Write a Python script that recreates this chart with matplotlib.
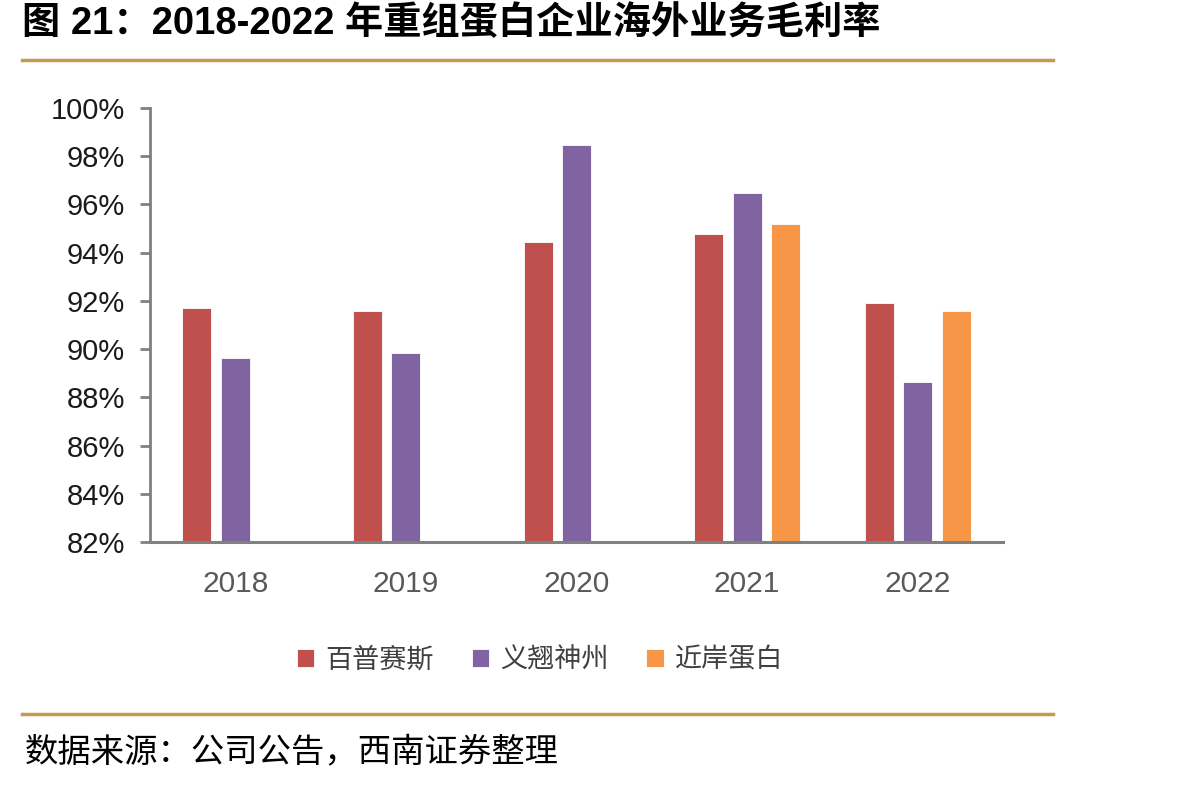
import numpy as np
import matplotlib.pyplot as plt
from matplotlib.lines import Line2D
from matplotlib.ticker import FuncFormatter

plt.rcParams['font.family'] = ['Liberation Sans', 'Noto Sans CJK SC', 'DejaVu Sans']

# 数据
years = ["2018", "2019", "2020", "2021", "2022"]
companies = ["百普赛斯", "义翘神州", "近岸蛋白"]
baipu = [91.72, 91.56, 94.46, 94.79, 91.90]
yiqiao = [89.65, 89.82, 98.46, 96.46, 88.63]
jinan = [np.nan, np.nan, np.nan, 95.18, 91.58]
colors = ["#C0504D", "#8064A2", "#F79646"]

fig = plt.figure(figsize=(12.04, 7.87), dpi=100)
ax = fig.add_axes([150 / 1204, 1 - 542 / 787, 853 / 1204, 434 / 787])

x = np.arange(len(years))
offsets = [-0.225, 0.0, 0.225]
width = 0.17
for serie, off, col, name in zip([baipu, yiqiao, jinan], offsets, colors, companies):
    vals = np.array(serie, dtype=float)
    ax.bar(x + off, vals - 82, width, bottom=82, color=col,
           edgecolor="white", linewidth=0.6, label=name)

ax.set_xlim(-0.5, len(years) - 0.5)
ax.set_ylim(82, 100)
ax.set_yticks(np.arange(82, 101, 2))
ax.yaxis.set_major_formatter(FuncFormatter(lambda v, p: f"{v:.0f}%"))
ax.set_xticks(x)
ax.set_xticklabels(years)

for s in ["top", "right"]:
    ax.spines[s].set_visible(False)
for s in ["left", "bottom"]:
    ax.spines[s].set_color("#808080")
ax.spines["left"].set_linewidth(2)
ax.spines["bottom"].set_linewidth(2.2)
ax.tick_params(axis="y", direction="out", length=7, width=2, color="#808080",
               pad=11, labelsize=21, labelcolor="#1a1a1a")
ax.tick_params(axis="x", length=0, pad=20, labelsize=21.5, labelcolor="#595959")

# 标题
fig.text(22 / 1204, 1 - 24 / 787, "图 21：2018-2022 年重组蛋白企业海外业务毛利率",
         fontsize=27.5, fontweight="bold", ha="left", va="center",
         family=["Liberation Sans", "Noto Sans CJK SC"])

# 金色分隔线
for yy in [60, 714]:
    fig.add_artist(Line2D([22 / 1204, 1053 / 1204], [1 - yy / 787, 1 - yy / 787],
                          color="#C9974E", linewidth=2.5, transform=fig.transFigure))

# 图例
fig.legend(loc="center", bbox_to_anchor=(540 / 1204, 1 - 660 / 787), ncol=3,
           frameon=False, handlelength=0.65, handleheight=0.65, handletextpad=0.4,
           columnspacing=1.4,
           prop={"family": ["Noto Sans CJK SC"], "size": 19.5})
for t in fig.legends[0].get_texts():
    t.set_color("#404040")

# 来源
fig.text(25 / 1204, 1 - 752 / 787, "数据来源：公司公告，西南证券整理",
         fontsize=24, style="italic", ha="left", va="center",
         family=["Noto Sans CJK SC"])

fig.savefig("out.png", dpi=100)
